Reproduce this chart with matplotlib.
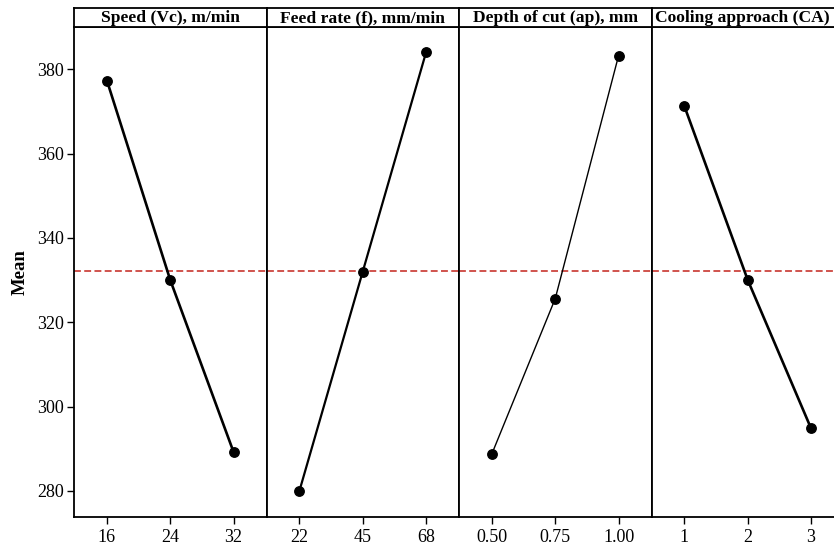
import numpy as np
import matplotlib
matplotlib.use("Agg")
import matplotlib.pyplot as plt

plt.rcParams['font.family'] = ['Liberation Serif', 'DejaVu Serif']

# factor names and their levels
factors = ["Speed (Vc), m/min", "Feed rate (f), mm/min",
           "Depth of cut (ap), mm", "Cooling approach (CA)"]
levels = [["16", "24", "32"],
          ["22", "45", "68"],
          ["0.50", "0.75", "1.00"],
          ["1", "2", "3"]]

# mean response at each level
speed_means = [377.3, 330.0, 289.2]
feed_means = [280.0, 332.0, 384.0]
depth_means = [288.8, 325.6, 383.2]
cooling_means = [371.2, 330.0, 294.8]
all_means = [speed_means, feed_means, depth_means, cooling_means]

grand_mean = np.mean(np.concatenate(all_means))
line_w = [1.9, 1.6, 1.0, 1.9]

fig = plt.figure(figsize=(8.34, 5.47), dpi=100)
W, H = 834.0, 547.0
left, pw = 74, 192.5
bot, top, strip_top = 517, 27, 8

for i, (name, lv, means) in enumerate(zip(factors, levels, all_means)):
    x0 = (left + i * pw) / W
    ax = fig.add_axes([x0, (H - bot) / H, pw / W, (bot - top) / H])
    xs = np.arange(len(lv))
    ax.plot(xs, means, color="black", lw=line_w[i], marker="o",
            markersize=6.8, zorder=3)
    ax.axhline(grand_mean, color="#c4241c", ls=(0, (4.5, 2.2)), lw=1.1, zorder=2)
    ax.set_xlim(-0.52, 2.52)
    ax.set_ylim(273.8, 390)
    ax.set_xticks(xs)
    ax.set_xticklabels(lv, fontsize=13)
    ax.tick_params(axis="x", length=5, width=1, pad=4)
    ax.set_yticks([280, 300, 320, 340, 360, 380])
    if i == 0:
        ax.tick_params(axis="y", length=5, width=1, labelsize=13, pad=2)
        ax.set_ylabel("Mean", fontsize=13.5, fontweight="bold", labelpad=6)
    else:
        ax.tick_params(axis="y", left=False, labelleft=False)
    for s in ax.spines.values():
        s.set_linewidth(1.3)

    # header strip with the factor name
    st = fig.add_axes([x0, (H - top) / H, pw / W, (top - strip_top) / H])
    st.set_xticks([])
    st.set_yticks([])
    for s in st.spines.values():
        s.set_linewidth(1.3)
    st.text(0.5 if i < 3 else 0.47, 0.45, name, ha="center", va="center",
            fontsize=12.6, fontweight="bold", transform=st.transAxes)

fig.savefig("out.png", dpi=100)
